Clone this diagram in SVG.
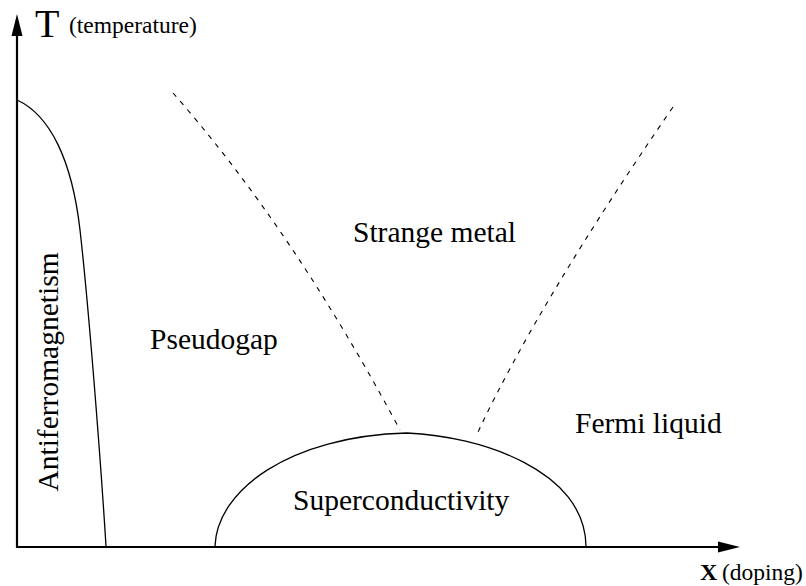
<svg xmlns="http://www.w3.org/2000/svg" width="806" height="586" viewBox="0 0 806 586">
<style>
.serif{font-family:"Liberation Serif","Times New Roman","DejaVu Serif",serif;fill:#000}
.lbl{font-size:29.5px}
.curve{fill:none;stroke:#000;stroke-width:1.3}
.dash{fill:none;stroke:#000;stroke-width:1.1;stroke-dasharray:5 6}
.axis{fill:none;stroke:#000;stroke-width:2.2}
</style>
<rect width="806" height="586" fill="#fff"/>
<g id="axes">
<line class="axis" x1="17" y1="548" x2="17" y2="30"/>
<polygon points="17,14 11.5,36 22.5,36" fill="#000"/>
<line class="axis" x1="16" y1="547" x2="724" y2="547"/>
<polygon points="740,547 718,541.5 718,552.5" fill="#000"/>
<text class="serif" x="35" y="37" font-size="40">T</text>
<text class="serif" x="69" y="33" font-size="23.5">(temperature)</text>
<text class="serif" x="700" y="580" font-size="24" font-weight="bold">X</text>
<text class="serif" x="722" y="580" font-size="23.5">(doping)</text>
</g>
<g id="connectors">
<path class="curve" d="M17,100 C50,115 72,160 80,230 C88,300 100,450 106,546"/>
<path class="dash" d="M173,93 Q292,228 400,430"/>
<path class="dash" d="M673,107 Q540,300 478,432"/>
<path class="curve" d="M215,546 C217,490 290,436 407,433 C480,436 585,470 586,546"/>
</g>
<g id="antiferromagnetism">
<text class="serif lbl" transform="translate(58,372) rotate(-90)" text-anchor="middle">Antiferromagnetism</text>
</g>
<g id="pseudogap"><text class="serif lbl" x="150" y="349">Pseudogap</text></g>
<g id="strange-metal"><text class="serif lbl" x="353" y="242">Strange metal</text></g>
<g id="fermi-liquid"><text class="serif lbl" x="575" y="433">Fermi liquid</text></g>
<g id="superconductivity"><text class="serif lbl" x="293" y="510">Superconductivity</text></g>
</svg>
